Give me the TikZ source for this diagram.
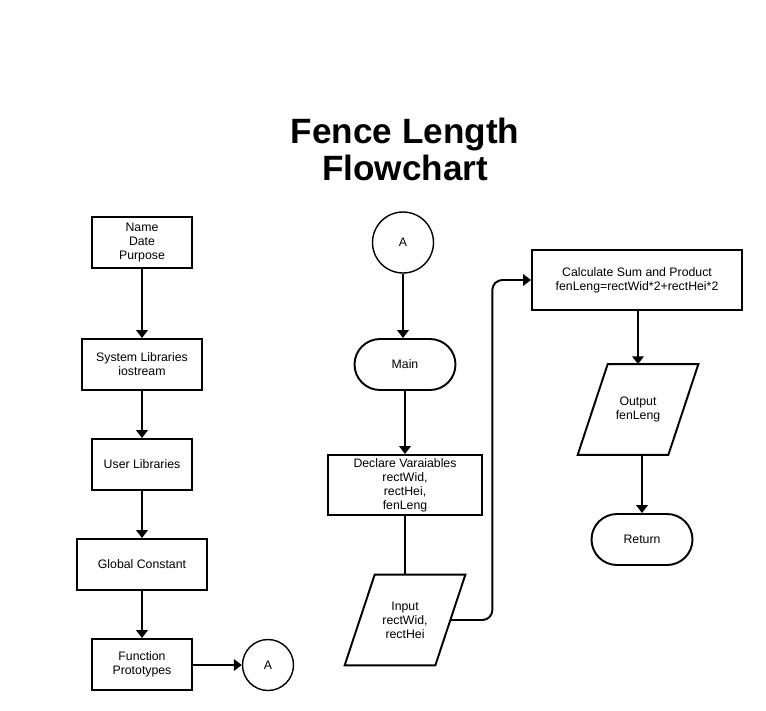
\documentclass[tikz,border=0pt]{standalone}
\usepackage{fontspec}
\setmainfont{Liberation Sans}
\usepackage{tikz}
\usetikzlibrary{arrows.meta,positioning,shapes.geometric}

\begin{document}
\begin{tikzpicture}[
  x=0.02cm, y=-0.02cm,
  box/.style={rectangle, draw, line width=1.1pt, minimum width=2cm, minimum height=1.02cm, inner sep=1pt, font=\fontsize{7}{8}\selectfont, align=center},
  term/.style={box, rounded corners=0.51cm, minimum width=2.02cm},
  io/.style={rectangle, minimum width=1.8cm, minimum height=1.8cm, inner sep=1pt, font=\fontsize{7}{8}\selectfont, align=center},
  conn/.style={circle, draw, line width=0.8pt, font=\fontsize{7}{8}\selectfont},
  arrow/.style={-{Triangle[width=6.5pt,length=4.5pt]}, line width=1.1pt}
]
\useasboundingbox (0,0) rectangle (766,710);

% Title
\node[font=\fontsize{20}{21}\selectfont\bfseries, align=center] (title) at (405,149) {Fence Length\\Flowchart};

% Left column: program header
\node[box] (header) at (142,242.5) {Name\\Date\\Purpose};
\node[box, minimum width=2.4cm] (syslib) at (142,364.5) {System Libraries\\iostream};
\node[box] (usrlib) at (142,464.5) {User Libraries};
\node[box, minimum width=2.6cm] (glob) at (142,564.5) {Global Constant};
\node[box] (proto) at (142,664.5) {Function\\Prototypes};
\node[conn, minimum size=1.02cm] (offA) at (268,665) {A};

% Middle column: main
\node[conn, minimum size=1.22cm] (onA) at (403,242.5) {A};
\node[term] (main) at (405,364.5) {Main};
\node[box, minimum width=3.08cm, minimum height=1.2cm] (declare) at (405,485) {Declare Varaiables\\rectWid,\\rectHei,\\fenLeng};
\node[io] (input) at (405,620) {Input\\rectWid,\\rectHei};

% Right column: calculation and output
\node[box, minimum width=4.2cm, minimum height=1.2cm] (calc) at (637,280) {Calculate Sum and Product\\fenLeng=rectWid*2+rectHei*2};
\node[io] (output) at (638,409.5) {Output\\fenLeng};
\node[term] (ret) at (642,539.5) {Return};

% Parallelogram outlines for input/output
\foreach \n in {input,output}
  \draw[line width=1.1pt] ([xshift=0.3cm]\n.north west) -- ([xshift=0.3cm]\n.north east)
    -- ([xshift=-0.3cm]\n.south east) -- ([xshift=-0.3cm]\n.south west) -- cycle;

% Arrows
\draw[arrow] (header) -- (syslib);
\draw[arrow] (syslib) -- (usrlib);
\draw[arrow] (usrlib) -- (glob);
\draw[arrow] (glob) -- (proto);
\draw[arrow] (proto.east |- offA) -- (offA);
\draw[arrow] (onA) -- (onA |- main.north);
\draw[arrow] (main) -- (declare);
\draw[line width=1.1pt] (declare) -- (input);
\draw[arrow, rounded corners=0.2cm] (input.east) -- ++(42,0) |- (calc.west);
\draw[arrow] (calc.south -| output) -- (output.north);
\draw[arrow] (ret.north |- output.south) -- (ret.north);

\end{tikzpicture}
\end{document}
